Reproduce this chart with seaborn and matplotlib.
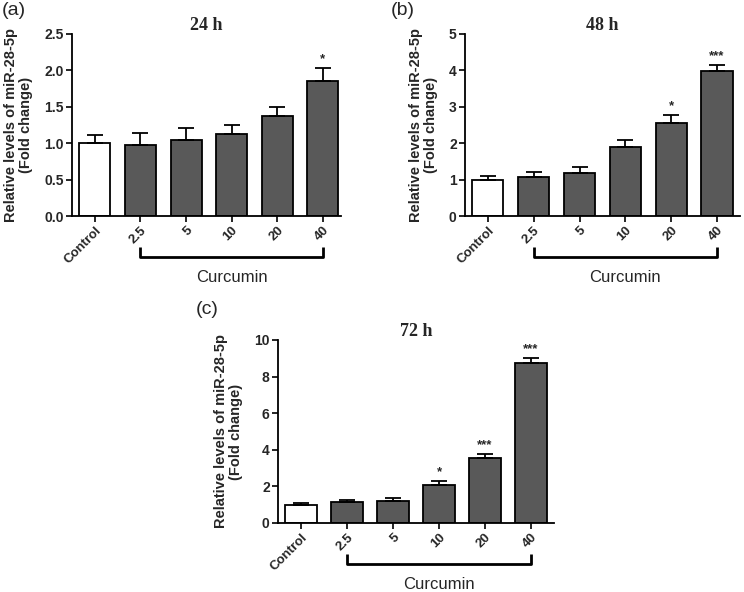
import matplotlib
matplotlib.use("Agg")
import matplotlib.pyplot as plt
import matplotlib.transforms as mtransforms
import seaborn as sns
import pandas as pd

categories = ["Control", "2.5", "5", "10", "20", "40"]

vals_24 = [1.00, 0.97, 1.05, 1.12, 1.38, 1.85]
err_24 = [0.11, 0.17, 0.16, 0.13, 0.12, 0.18]
sig_24 = ["", "", "", "", "", "*"]

vals_48 = [1.00, 1.08, 1.17, 1.91, 2.56, 3.98]
err_48 = [0.10, 0.14, 0.17, 0.17, 0.21, 0.18]
sig_48 = ["", "", "", "", "*", "***"]

vals_72 = [1.00, 1.12, 1.20, 2.10, 3.57, 8.75]
err_72 = [0.10, 0.14, 0.17, 0.20, 0.22, 0.25]
sig_72 = ["", "", "", "*", "***", "***"]

titles = ["24 h", "48 h", "72 h"]
panel_labels = ["(a)", "(b)", "(c)"]
ylims = [2.5, 5, 10]
yticks = [[0, 0.5, 1.0, 1.5, 2.0, 2.5], [0, 1, 2, 3, 4, 5], [0, 2, 4, 6, 8, 10]]
yfmt = ["{:.1f}", "{:.0f}", "{:.0f}"]

sns.set_theme(style="ticks")
plt.rcParams["font.family"] = ["Liberation Sans", "DejaVu Sans"]

fig = plt.figure(figsize=(7.44, 5.92), dpi=100)
positions = [
    [0.0968, 0.635, 0.3616, 0.3076],
    [0.625, 0.635, 0.3694, 0.3076],
    [0.3737, 0.1166, 0.371, 0.3091],
]
xmax = [5.4, 5.5, 5.5]
datasets = [(vals_24, err_24, sig_24), (vals_48, err_48, sig_48), (vals_72, err_72, sig_72)]
bar_grey = "#595959"
palette = ["white"] + [bar_grey] * 5

for i, (vals, errs, sigs) in enumerate(datasets):
    ax = fig.add_axes(positions[i])
    df = pd.DataFrame({"group": categories, "value": vals})
    sns.barplot(data=df, x="group", y="value", hue="group", palette=palette,
                order=categories, hue_order=categories, legend=False,
                width=0.68, edgecolor="black", linewidth=1.3, errorbar=None, ax=ax)
    xs = list(range(len(categories)))
    ax.errorbar(xs, vals, yerr=[[0] * len(errs), errs], fmt="none", ecolor="black",
                elinewidth=1.3, capsize=5.8, capthick=1.3, zorder=1)
    for x, v, e, s in zip(xs, vals, errs, sigs):
        if s:
            ax.text(x, v + e + ylims[i] * 0.015, s, ha="center", va="bottom",
                    fontsize=9.5, fontweight="bold")
    ax.set_xlim(-0.5, xmax[i])
    ax.set_ylim(0, ylims[i])
    ax.set_yticks(yticks[i])
    ax.set_yticklabels([yfmt[i].format(t) for t in yticks[i]], fontsize=10, fontweight="bold")
    ax.set_xticks(xs)
    ax.set_xticklabels(categories, rotation=45, ha="right", rotation_mode="anchor",
                       fontsize=9.5, fontweight="bold")
    ax.set_xlabel("")
    ax.set_ylabel("Relative levels of miR-28-5p\n(Fold change)", fontsize=10.5,
                  fontweight="bold", linespacing=1.1, labelpad=8)
    sns.despine(ax=ax)
    for sp in ["left", "bottom"]:
        ax.spines[sp].set_linewidth(1.3)
        ax.spines[sp].set_color("black")
    ax.tick_params(axis="both", length=4, width=1.2, color="black", pad=2)
    ax.set_title(titles[i], fontsize=13, fontweight="bold", family="Liberation Serif", pad=1)
    # bracket
    trans = mtransforms.blended_transform_factory(ax.transData, ax.transAxes)
    ax.plot([1, 1, 5, 5], [-0.17, -0.225, -0.225, -0.17], color="black", lw=2,
            transform=trans, clip_on=False, solid_capstyle="butt")
    ax.text(3, -0.335, "Curcumin", transform=trans, ha="center", va="center", fontsize=12)

fig.text(0.003, 0.997, "(a)", fontsize=14, va="top", ha="left")
fig.text(0.525, 0.997, "(b)", fontsize=14, va="top", ha="left")
fig.text(0.263, 0.492, "(c)", fontsize=14, va="top", ha="left")

fig.savefig("out.png", dpi=100)
